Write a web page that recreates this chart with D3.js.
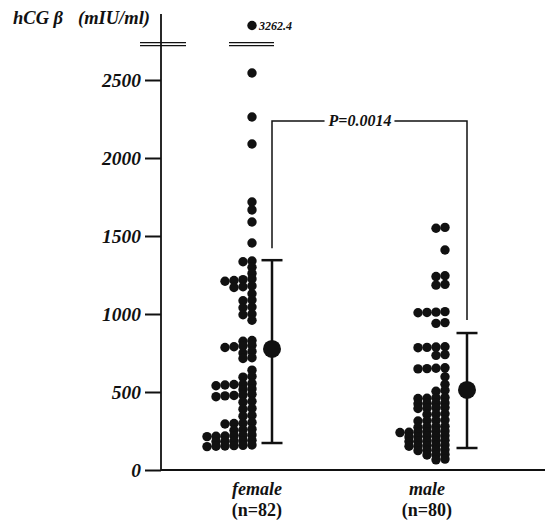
<!DOCTYPE html>
<html>
<head>
<meta charset="utf-8">
<script src="https://cdn.jsdelivr.net/npm/d3@7"></script>
<style>
  body { margin: 0; background: #fff; }
  svg { display: block; }
  text { font-family: "Liberation Serif", "Times New Roman", serif; fill: #111; }
</style>
</head>
<body>
<svg id="chart" width="552" height="520"></svg>
<script>
// Data
const groups = ['female', 'male'];
const groupCounts = ['(n=82)', '(n=80)'];

const femaleValues = [
    3262.4, 2545, 2263, 2090, 1718, 1667, 1590, 1455,
    1340, 1335, 1300, 1260, 1225, 1220, 1215, 1210, 1180, 1175, 1170, 1130, 1090, 1085, 1045, 1040, 1000, 995, 960,
    830, 825, 800, 795, 790, 785, 760, 750, 720, 715,
    640, 600, 595, 555, 550, 548, 545, 540, 520, 515, 485, 480, 478, 475, 470, 440, 435, 395, 390, 350, 345,
    305, 300, 298, 295, 262, 258, 255,
    225, 222, 220, 218, 216, 214, 190, 188, 186, 184, 182, 160, 158, 156, 154, 152, 150
];

const maleValues = [
    1555, 1550, 1410, 1245, 1240, 1190, 1185, 1015, 1012, 1010, 1008, 945, 940,
    790, 788, 786, 784, 740, 735, 655, 652, 650, 648, 598, 550, 510, 505,
    465, 462, 460, 458, 430, 428, 426, 424, 400, 398, 396, 394, 360, 358, 356,
    320, 318, 316, 314, 280, 278, 276, 274, 250, 248, 246, 244, 242, 240,
    220, 218, 216, 214, 212, 190, 188, 186, 184, 182, 160, 158, 156, 154, 152,
    130, 128, 126, 124, 100, 98, 96, 70, 65
];

// Mean and error bar ends
const means = [776, 513];
const barLow = [173, 141];
const barHigh = [1345, 878];

const yTicks = [0, 500, 1000, 1500, 2000, 2500];
const outlierLabel = '3262.4';
const pLabel = 'P=0.0014';

// Axis break
const breakLow = 2720, breakHigh = 2740;

/**
 * Layout.
 */
const svg = d3.select('#chart');
const axisX = 161, axisTop = 14, axisBottom = 470, axisRight = 545;
const dotR = 4.7, colStep = 9, minGap = 4.5;

const y = d3.scaleLinear()
    .domain([0, 2800, 3262.4])
    .range([axisBottom, 33.2, 25.5]);

const xLabel = d3.scalePoint().domain(groups).range([257, 427]);
const xDots = d3.scalePoint().domain(groups).range([252, 445]);
const xBar = d3.scalePoint().domain(groups).range([272, 467]);

// Y axis
const yAxis = d3.axisLeft(y)
    .tickValues(yTicks)
    .tickSize(16)
    .tickSizeOuter(0)
    .tickPadding(4)
    .tickFormat(d3.format('d'));

const yAxisG = svg.append('g')
    .attr('transform', 'translate(' + axisX + ',0)')
    .call(yAxis);
yAxisG.select('.domain').remove();
yAxisG.selectAll('.tick line').attr('stroke', '#111').attr('stroke-width', 2);
yAxisG.selectAll('.tick text')
    .attr('font-family', '"Liberation Serif", serif')
    .attr('font-size', 19.5)
    .attr('font-weight', 'bold')
    .attr('font-style', 'italic')
    .attr('fill', '#111');

// Axis lines
svg.append('line')
    .attr('x1', axisX).attr('x2', axisX)
    .attr('y1', axisTop).attr('y2', axisBottom)
    .attr('stroke', '#111').attr('stroke-width', 1.8);
svg.append('line')
    .attr('x1', axisX).attr('x2', axisRight)
    .attr('y1', axisBottom).attr('y2', axisBottom)
    .attr('stroke', '#111').attr('stroke-width', 1.8);

// Break marks on axis and female column
const breakSpans = [[140, 186], [229, 274]];
breakSpans.forEach(s => {
    [breakLow, breakHigh].forEach(v => {
        svg.append('line')
            .attr('x1', s[0]).attr('x2', s[1])
            .attr('y1', y(v)).attr('y2', y(v))
            .attr('stroke', '#111').attr('stroke-width', 1.3);
    });
});

// Y label
const yTitle = svg.append('g')
    .attr('font-size', 18.5)
    .attr('font-weight', 'bold')
    .attr('font-style', 'italic');
yTitle.append('text').attr('x', 13).attr('y', 24).text('hCG β');
yTitle.append('text').attr('x', 78).attr('y', 24).text('(mIU/ml)');

// One-sided column swarm: each dot goes to the rightmost free column
function swarm(values, anchor) {
    const cols = [];
    return values.slice().sort((a, b) => b - a).map(v => {
        const py = y(v);
        let c = 0;
        while (cols[c] && cols[c].some(q => Math.abs(q - py) < minGap)) c++;
        (cols[c] = cols[c] || []).push(py);
        return { value: v, x: anchor - c * colStep, y: py };
    });
}

const dotData = [
    swarm(femaleValues, xDots('female')),
    swarm(maleValues, xDots('male'))
];

svg.append('g').attr('class', 'dots')
    .selectAll('g').data(dotData).join('g')
    .selectAll('circle').data(d => d).join('circle')
    .attr('cx', d => d.x)
    .attr('cy', d => d.y)
    .attr('r', dotR)
    .attr('fill', '#111');

// Outlier label
svg.append('text')
    .attr('x', xDots('female') + 7)
    .attr('y', y(3262.4) + 4.5)
    .attr('font-size', 12)
    .attr('font-weight', 'bold')
    .attr('font-style', 'italic')
    .text(outlierLabel);

// Error bars with mean
const bars = svg.append('g').attr('class', 'bars')
    .selectAll('g').data(groups).join('g');
bars.append('line')
    .attr('x1', d => xBar(d)).attr('x2', d => xBar(d))
    .attr('y1', (d, i) => y(barHigh[i])).attr('y2', (d, i) => y(barLow[i]))
    .attr('stroke', '#111').attr('stroke-width', 2.5);
bars.selectAll('line.cap').data((d, i) => [barHigh[i], barLow[i]].map(v => ({ g: d, v: v })))
    .join('line').attr('class', 'cap')
    .attr('x1', d => xBar(d.g) - 10.5).attr('x2', d => xBar(d.g) + 10.5)
    .attr('y1', d => y(d.v)).attr('y2', d => y(d.v))
    .attr('stroke', '#111').attr('stroke-width', 2.5);
bars.append('circle')
    .attr('cx', d => xBar(d))
    .attr('cy', (d, i) => y(means[i]))
    .attr('r', 9)
    .attr('fill', '#111');

// Significance bracket
const bracketY = 121;
const xl = xBar('female'), xr = xBar('male');
const leftEnd = y(barHigh[0]) - 12, rightEnd = y(barHigh[1]) - 13;
const pText = svg.append('text')
    .attr('x', 360)
    .attr('y', bracketY + 5)
    .attr('text-anchor', 'middle')
    .attr('font-size', 16)
    .attr('font-weight', 'bold')
    .attr('font-style', 'italic')
    .text(pLabel);
const pb = pText.node().getBBox();
svg.append('path')
    .attr('d', 'M' + xl + ',' + leftEnd + 'V' + bracketY + 'H' + (pb.x - 3))
    .attr('fill', 'none').attr('stroke', '#111').attr('stroke-width', 1.5);
svg.append('path')
    .attr('d', 'M' + (pb.x + pb.width + 3) + ',' + bracketY + 'H' + xr + 'V' + rightEnd)
    .attr('fill', 'none').attr('stroke', '#111').attr('stroke-width', 1.5);

// Category labels
const cat = svg.append('g').selectAll('g').data(groups).join('g');
cat.append('text')
    .attr('x', d => xLabel(d)).attr('y', 495)
    .attr('text-anchor', 'middle')
    .attr('font-size', 18)
    .attr('font-weight', 'bold')
    .attr('font-style', 'italic')
    .text(d => d);
cat.append('text')
    .attr('x', d => xLabel(d)).attr('y', 516)
    .attr('text-anchor', 'middle')
    .attr('font-size', 18)
    .attr('font-weight', 'bold')
    .text((d, i) => groupCounts[i]);
</script>
</body>
</html>
